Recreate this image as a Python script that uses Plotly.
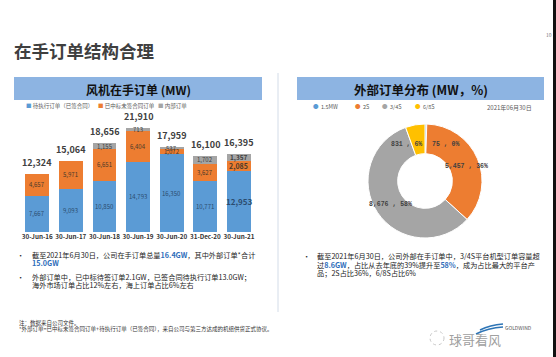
import plotly.graph_objects as go

# ---------------- data ----------------
categories = ["30-Jun-16", "30-Jun-17", "30-Jun-18", "30-Jun-19", "30-Jun-20", "31-Dec-20", "30-Jun-21"]
pending = [7667, 9093, 10850, 14793, 16350, 10771, 12953]
won_unsigned = [4657, 5971, 6651, 6404, 1072, 3627, 2085]
internal = [0, 0, 1155, 713, 537, 1702, 1357]
totals = [12324, 15064, 18656, 21910, 17959, 16100, 16395]
bar_series = ["待执行订单（已签合同）", "已中标未签合同订单", "内部订单"]

pie_labels = ["1.5MW", "2S", "3/4S", "6/8S"]
pie_values = [75, 5457, 8676, 831]

# ---------------- style ----------------
W, H = 556, 357
FONT = "Noto Sans CJK SC"
BLUE, ORANGE, GRAY, YELLOW = "#5B9BD5", "#ED7D31", "#A5A5A5", "#FFC000"
BAND = "#8DB4E2"
HL = "#2F6EBA"


def px(x):
    return x / W


def py(y):
    return 1 - y / H


fig = go.Figure()

series_vals = [pending, won_unsigned, internal]
series_cols = [BLUE, ORANGE, GRAY]
for name, vals, col in zip(bar_series, series_vals, series_cols):
    fig.add_trace(go.Bar(x=categories, y=vals, name=name, marker=dict(color=col, line=dict(width=0)),
                         showlegend=False, hoverinfo="skip", xaxis="x", yaxis="y"))

pie_total = sum(pie_values)
pie_pct = [round(v / pie_total * 100) for v in pie_values]
fig.add_trace(go.Pie(labels=pie_labels, values=pie_values, sort=False, direction="clockwise", rotation=0,
                     hole=0.48, marker=dict(colors=[BLUE, ORANGE, GRAY, YELLOW], line=dict(color="white", width=1)),
                     textinfo="none", showlegend=False, hoverinfo="skip",
                     domain=dict(x=[px(368), px(482)], y=[py(238), py(124)])))

ann = []
shapes = []


def text_at(x, y, text, size=7.2, color="#222", xa="left", family=FONT):
    ann.append(dict(x=px(x), y=py(y), xref="paper", yref="paper", xanchor=xa, yanchor="middle",
                    showarrow=False, text=text, font=dict(family=family, size=size, color=color)))


# segment labels
label_cols = ["#2B4C6F", "#4a3a2a", "#404040"]
n = len(categories)
for i, cat in enumerate(categories):
    base = 0
    last = (i == n - 1)
    for s, vals in enumerate(series_vals):
        v = vals[i]
        if v > 0:
            size = 6
            txt = f"{v:,}"
            if last:
                size = [8, 7, 6.5][s]
                txt = f"<b>{txt}</b>"
            ann.append(dict(x=cat, y=base + v / 2, xref="x", yref="y", text=txt, showarrow=False,
                            xanchor="center", yanchor="middle",
                            font=dict(family=FONT, size=size, color=label_cols[s])))
        base += v
    ann.append(dict(x=cat, y=totals[i], xref="x", yref="y", text=f"<b>{totals[i]:,}</b>", showarrow=False,
                    xanchor="center", yanchor="bottom", yshift=3,
                    font=dict(family=FONT, size=9, color="#404040")))

# title
text_at(12, 51, "<b>在手订单结构合理</b>", size=17.5, color="#3F3F3F")
text_at(549, 35, "10", size=5, color="#777", xa="center")

# header bands
shapes.append(dict(type="rect", xref="paper", yref="paper", x0=px(14), x1=px(262), y0=py(100), y1=py(77),
                   fillcolor=BAND, line=dict(width=0), layer="below"))
shapes.append(dict(type="rect", xref="paper", yref="paper", x0=px(297), x1=px(544), y0=py(100), y1=py(77),
                   fillcolor=BAND, line=dict(width=0), layer="below"))
text_at(138, 89, "<b>风机在手订单 (MW)</b>", size=12, color="#111", xa="center")
text_at(421, 89, "<b>外部订单分布 (MW，%)</b>", size=12.5, color="#111", xa="center")

# divider
shapes.append(dict(type="line", xref="paper", yref="paper", x0=px(278), x1=px(278), y0=py(73), y1=py(312),
                   line=dict(color="#D3DCE8", width=1)))
# right edge strip
shapes.append(dict(type="rect", xref="paper", yref="paper", x0=px(553), x1=px(556), y0=0, y1=1,
                   fillcolor="#111", line=dict(width=0)))

# bar legend
leg_x = [24, 96, 156]
for name, col, x in zip(bar_series, series_cols, leg_x):
    text_at(x, 105.5, f"<span style='color:{col}'>■</span> {name}", size=5.5, color="#595959")

# pie legend
pie_cols = [BLUE, ORANGE, GRAY, YELLOW]
pleg_x = [311, 353, 380, 413]
for name, col, x in zip(pie_labels, pie_cols, pleg_x):
    text_at(x, 107, f"<span style='color:{col}'>●</span>  {name}", size=5.5, color="#595959")
text_at(534, 107, "2021年06月30日", size=6, color="#595959", xa="right")

# pie labels
pie_label_pos = [(445, 144), (466, 166), (390, 205), (406, 144)]
for v, p, (lx, ly) in zip(pie_values, pie_pct, pie_label_pos):
    text_at(lx, ly, f"<b>{v:,} , {p}%</b>", size=6.5, color="#404040", xa="center", family="Liberation Mono")

# left bullets
text_at(15, 255, "•")
text_at(30, 255, f"截至2021年6月30日，公司在手订单总量<span style='color:{HL}'><b>16.4GW</b></span>，其中外部订单*合计")
text_at(30, 263, f"<span style='color:{HL}'><b>15.0GW</b></span>")
text_at(15, 277, "•")
text_at(30, 277, "外部订单中，已中标待签订单2.1GW，已签合同待执行订单13.0GW；")
text_at(30, 285, "海外市场订单占比12%左右，海上订单占比6%左右")

# right bullets
text_at(301, 256, "•")
text_at(315, 256, "截至2021年6月30日，公司外部在手订单中，3/4S平台机型订单容量超")
text_at(315, 264.5, f"过<span style='color:{HL}'><b>8.6GW</b></span>，占比从去年底的39%提升至<span style='color:{HL}'><b>58%</b></span>，成为占比最大的平台产")
text_at(315, 273, "品；2S占比36%，6/8S占比6%")

# footnotes
text_at(17, 322.5, "注：数据来自公司文件。", size=5.5, color="#333")
text_at(17, 329, "*外部订单=已中标未签合同订单+待执行订单（已签合同），来自公司与第三方达成的机组供货正式协议。", size=5.5, color="#333")

# watermark / logo
shapes.append(dict(type="circle", xref="paper", yref="paper", x0=px(430), x1=px(444), y0=py(345), y1=py(331),
                   line=dict(color="#C8C8C8", width=1, dash="dot")))
text_at(447, 339, "球哥看风", size=13, color="#A0A0A0")
shapes.append(dict(type="path", xref="paper", yref="paper",
                   path=f"M {px(480)},{py(330)} Q {px(490)},{py(325)} {px(503)},{py(324)}",
                   line=dict(color="#2E75B6", width=1.5)))
shapes.append(dict(type="path", xref="paper", yref="paper",
                   path=f"M {px(476)},{py(334)} Q {px(488)},{py(328)} {px(503)},{py(327)}",
                   line=dict(color="#2E75B6", width=1.5)))
text_at(503, 327, "GOLDWIND", size=5, color="#555")

fig.update_layout(
    width=W, height=H, margin=dict(l=0, r=0, t=0, b=0),
    paper_bgcolor="white", plot_bgcolor="white",
    barmode="stack", bargap=0.29,
    xaxis=dict(domain=[px(20.2), px(255.8)], type="category", showgrid=False, showline=False, ticks="",
               tickfont=dict(family=FONT, size=6.3, color="#333", weight="bold"), fixedrange=True),
    yaxis=dict(domain=[py(232), py(110)], range=[0, 25705], visible=False, fixedrange=True),
    annotations=ann, shapes=shapes,
    font=dict(family=FONT),
)

fig.write_html("out.html", config={"displayModeBar": False},
               post_script="document.body.style.margin='0px';document.body.style.overflow='hidden';")
